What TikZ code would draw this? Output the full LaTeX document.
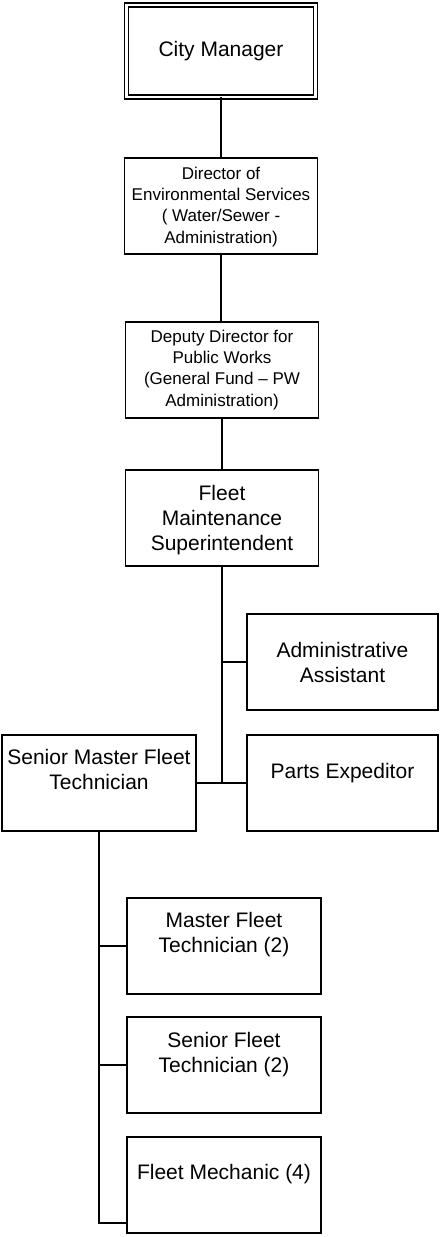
\documentclass[tikz,border=0pt]{standalone}
\usepackage{fontspec}
\setmainfont{Liberation Sans}
\begin{document}
\begin{tikzpicture}[x=1pt,y=-1pt,
  box/.style={draw, line width=1.5pt, minimum width=193pt, minimum height=96pt, inner sep=0pt, outer sep=0pt},
  big/.style={anchor=north, inner sep=0pt, align=center, font=\fontsize{21}{25}\selectfont},
  small/.style={anchor=north, inner sep=0pt, align=center, font=\fontsize{17}{21.3}\selectfont},
  link/.style={line width=1.6pt}]
\fill[white] (0,0) rectangle (441,1237);
\useasboundingbox (0,0) rectangle (441,1237);
% boxes
\node[box, double, double distance=2.6pt, line width=1.3pt, minimum width=189pt, minimum height=92pt] (cm) at (221,51) {};
\node[box] (dir) at (221,206) {};
\node[box] (dep) at (222,370) {};
\node[box] (fms) at (222,518) {};
\node[box, minimum width=191pt] (adm) at (342.5,662) {};
\node[box, minimum width=194pt] (smft) at (99,783) {};
\node[box, minimum width=191pt] (parts) at (342.5,783) {};
\node[box, minimum width=194pt] (mft) at (224,946) {};
\node[box, minimum width=194pt] (sft) at (224,1065) {};
\node[box, minimum width=194pt] (fm) at (224,1185) {};
% texts
\node[big] (tcm) at (221,39) {\strut City Manager};
\node[small] (tdir) at (221,164.1) {\strut Director of\\Environmental Services\\( Water/Sewer -\\Administration)};
\node[small] (tdep) at (222,327.1) {\strut Deputy Director for\\Public Works\\(General Fund – PW\\Administration)};
\node[big] (tfms) at (222,482.5) {\strut Fleet\\Maintenance\\Superintendent};
\node[big] (tadm) at (342.5,639.5) {\strut Administrative\\Assistant};
\node[big] (tsmft) at (99,746.5) {\strut Senior Master Fleet\\Technician};
\node[big] (tparts) at (342.5,760.5) {\strut Parts Expeditor};
\node[big] (tmft) at (224,909.5) {\strut Master Fleet\\Technician (2)};
\node[big] (tsft) at (224,1029.5) {\strut Senior Fleet\\Technician (2)};
\node[big] (tfm) at (224,1161.5) {\strut Fleet Mechanic (4)};
% connectors
\draw[link] (cm.south) -- (cm.south |- dir.north);
\draw[link] (dir.south) -- (dir.south |- dep.north);
\draw[link] (dep.south) -- (dep.south |- fms.north);
\coordinate (j1) at (fms.south |- smft.east);
\draw[link] (fms.south) -- (j1);
\draw[link] (fms.south |- adm.west) -- (adm.west);
\draw[link] (smft.east) -- (smft.east -| parts.west);
\coordinate (j2) at (99,1223);
\draw[link] (smft.south) -- (j2) -- (j2 -| fm.west);
\draw[link] (smft.south |- mft.west) -- (mft.west);
\draw[link] (smft.south |- sft.west) -- (sft.west);
\end{tikzpicture}
\end{document}
